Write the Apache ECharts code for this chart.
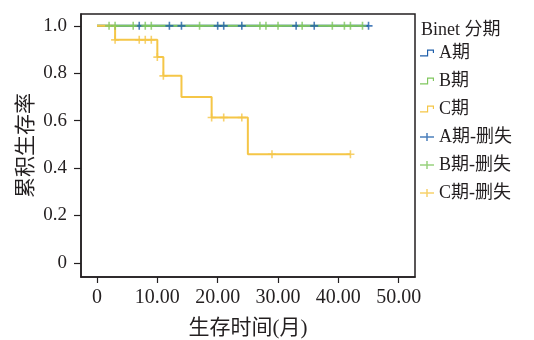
<!DOCTYPE html>
<html>
<head>
<meta charset="utf-8">
<script src="https://cdn.jsdelivr.net/npm/echarts@6/dist/echarts.min.js"></script>
<style>
  html, body { margin: 0; padding: 0; background: #fff; }
  #chart { width: 534px; height: 340px; }
</style>
</head>
<body>
<div id="chart"></div>
<script>
// 生存曲线 (Kaplan-Meier), 按 Binet 分期
const groups = ['A期', 'B期', 'C期'];
const censorNames = ['A期-删失', 'B期-删失', 'C期-删失'];
const colors = ['#1f5faa', '#80c75e', '#f5c647'];

// step points [time, survival]
const curveA = [[0, 1], [45, 1]];
const curveB = [[0, 1], [44, 1]];
const curveC = [[0, 1], [3, 0.941], [10, 0.868], [11, 0.789], [14, 0.70], [19, 0.613], [25, 0.458], [42, 0.458]];

// censored times
const censorA = [7, 12, 14, 20, 21, 24, 33, 36, 45];
const censorB = [2, 3, 6, 8, 9, 17, 27, 28, 30, 34, 39, 41, 42, 44];
const censorC = [[3, 0.941], [7, 0.941], [8, 0.941], [9, 0.941], [10, 0.868], [11, 0.789],
                 [19, 0.613], [21, 0.613], [24, 0.613], [29, 0.458], [42, 0.458]];

const xTicks = [0, 10, 20, 30, 40, 50];
const xTickLabels = ['0', '10.00', '20.00', '30.00', '40.00', '50.00'];
const yTicks = [0, 0.2, 0.4, 0.6, 0.8, 1.0];
const yTickLabels = ['0', '0.2', '0.4', '0.6', '0.8', '1.0'];

const fontFam = "'Liberation Serif', 'Noto Sans CJK SC', serif";
const ink = '#231f20';

const stepIcon = 'path://M0,6 L6,6 L6,1 L12,1 L12,4 L11,4 L11,2 L7,2 L7,7 L0,7 Z';
const plusIcon = 'path://M0,3 L13,3 L13,4.4 L0,4.4 Z M5.8,0 L7.2,0 L7.2,7.4 L5.8,7.4 Z';
const plusMark = 'path://M0,3.2 L8,3.2 L8,4.8 L0,4.8 Z M3.2,0 L4.8,0 L4.8,8 L3.2,8 Z';

const curves = [curveA, curveB, curveC];
const censors = [
  censorA.map(t => [t, 1]),
  censorB.map(t => [t, 1]),
  censorC
];

const series = [];
curves.forEach((c, i) => {
  series.push({
    name: groups[i],
    type: 'line',
    step: 'end',
    data: c,
    showSymbol: false,
    symbol: stepIcon,
    lineStyle: { width: 2, color: colors[i] },
    itemStyle: { color: colors[i] },
    z: 2
  });
});
censors.forEach((d, i) => {
  series.push({
    name: censorNames[i],
    type: 'scatter',
    data: d,
    symbol: plusMark,
    symbolSize: 8,
    itemStyle: { color: colors[i] },
    z: 3
  });
});

const chart = echarts.init(document.getElementById('chart'));
chart.setOption({
  animation: false,
  title: {
    text: 'Binet 分期',
    left: 421,
    top: 21,
    padding: 0,
    textStyle: { fontFamily: fontFam, fontSize: 18, fontWeight: 'normal', color: ink }
  },
  legend: {
    orient: 'vertical',
    left: 420,
    top: 44,
    padding: 0,
    itemWidth: 14,
    itemHeight: 8,
    itemGap: 10,
    data: groups.map(g => ({ name: g, icon: stepIcon }))
      .concat(censorNames.map(g => ({ name: g, icon: plusIcon }))),
    textStyle: { fontFamily: fontFam, fontSize: 18, color: ink, lineHeight: 18 }
  },
  grid: {
    left: 81, top: 14, right: 119, bottom: 63,
    outerBoundsMode: 'none',
    containLabel: false,
    show: true,
    borderColor: ink,
    borderWidth: 1.5
  },
  xAxis: {
    type: 'value',
    min: -2.65,
    max: 52.7,
    name: '生存时间(月)',
    nameLocation: 'middle',
    nameGap: 41,
    nameTextStyle: { fontFamily: fontFam, fontSize: 21, color: ink },
    axisLine: { onZero: false, lineStyle: { color: ink, width: 1.5 } },
    axisTick: { customValues: xTicks, length: 6, lineStyle: { color: ink, width: 1.2 } },
    axisLabel: {
      customValues: xTicks,
      margin: 11,
      fontFamily: fontFam, fontSize: 20, color: ink,
      formatter: v => xTickLabels[xTicks.indexOf(v)]
    },
    splitLine: { show: false }
  },
  yAxis: {
    type: 'value',
    min: -0.06,
    max: 1.05,
    name: '累积生存率',
    nameLocation: 'middle',
    nameGap: 44,
    nameMoveOverlap: false,
    nameTextStyle: { fontFamily: fontFam, fontSize: 21, color: ink },
    axisLine: { onZero: false, lineStyle: { color: ink, width: 1.5 } },
    axisTick: { customValues: yTicks, length: 7, lineStyle: { color: ink, width: 1.2 } },
    axisLabel: {
      customValues: yTicks,
      margin: 14,
      fontFamily: fontFam, fontSize: 19, color: ink,
      formatter: v => yTickLabels[yTicks.findIndex(t => Math.abs(t - v) < 1e-6)]
    },
    splitLine: { show: false }
  },
  series: series
});
</script>
</body>
</html>
